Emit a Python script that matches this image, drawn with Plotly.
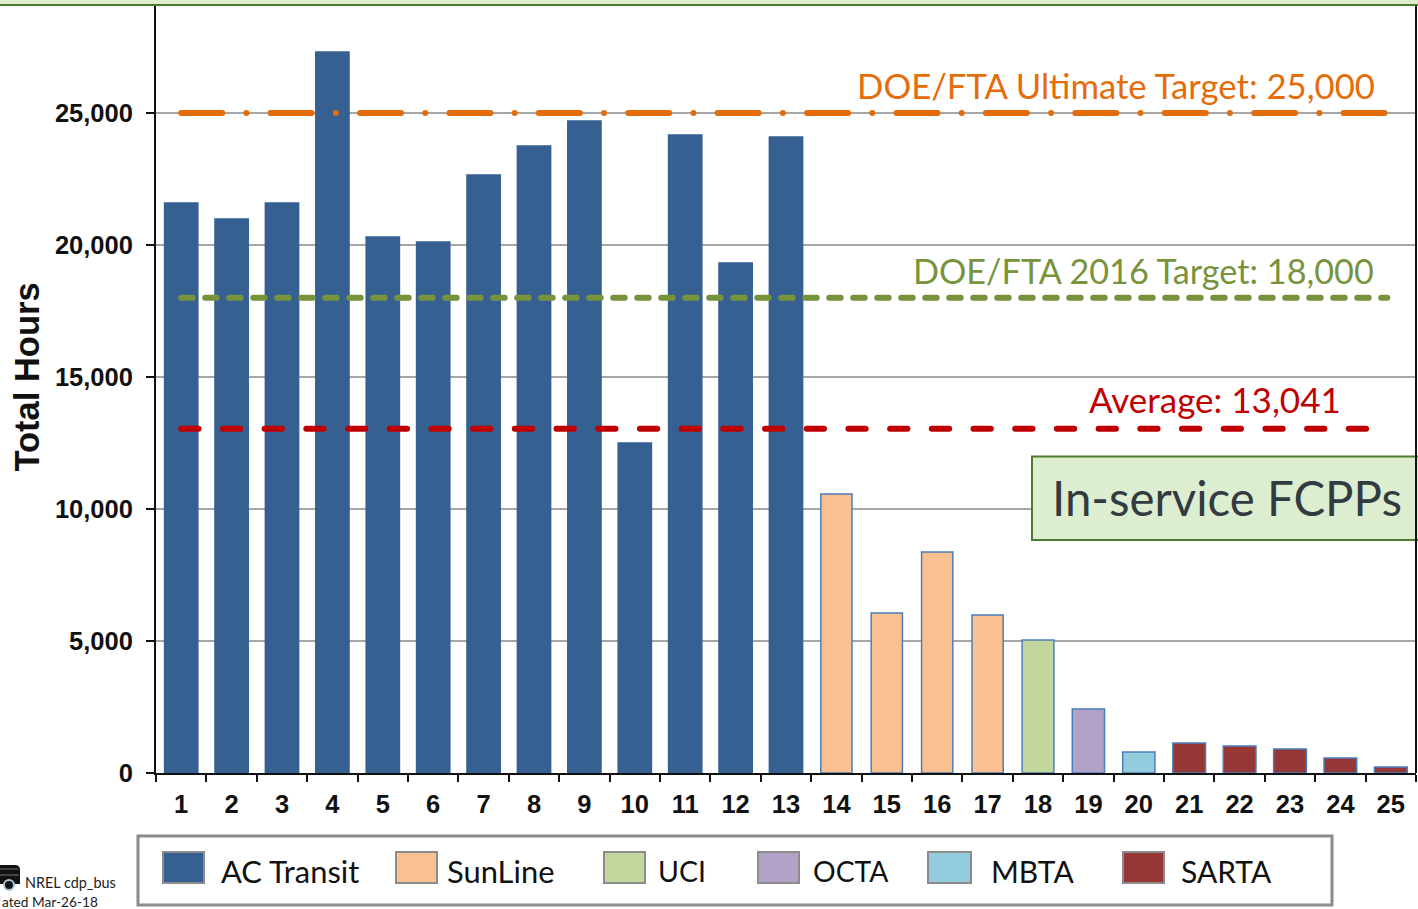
import plotly.graph_objects as go

W, H = 1418, 909
L, R, T, B = 156, 1416, 6, 773

categories = [str(i) for i in range(1, 26)]
ac_transit = [21590, 20985, 21590, 27310, 20300, 20110, 22650, 23750, 24700, 12500, 24170, 19320, 24090]
sunline = [10570, 6060, 8370, 5985]
uci = [5040]
octa = [2425]
mbta = [800]
sarta = [1140, 1020, 910, 570, 230]
operators = ["AC Transit", "SunLine", "UCI", "OCTA", "MBTA", "SARTA"]
operator_values = [ac_transit, sunline, uci, octa, mbta, sarta]
operator_colors = ["#376092", "#FAC090", "#C3D69B", "#B3A2C7", "#93CDDD", "#953735"]
ultimate_target, target_2016, average = 25000, 18000, 13041
y_ticks = [0, 5000, 10000, 15000, 20000, 25000]
INK = "#111111"


def fx(x):
    return (x - L) / (R - L)


def fy(y):
    return (B - y) / (B - T)


fig = go.Figure()
start = 0
bar_widths = [0.66, 0.62, 0.63, 0.64, 0.64, 0.65]
for name, vals, col, bw in zip(operators, operator_values, operator_colors, bar_widths):
    fig.add_bar(x=categories[start:start + len(vals)], y=vals, name=name, marker_color=col, width=bw,
                marker_line_color="#4A7EBB" if name != "AC Transit" else "#376092",
                marker_line_width=1.5, showlegend=False)
    start += len(vals)

for val, col, dash, x_end in [
    (ultimate_target, "#E46C0A", "41px,24.2px,0.01px,24.2px", 25),
    (target_2016, "#77933C", "11.5px,12.5px", 24.93),
    (average, "#C00000", "17.3px,24.4px", 24.6),
]:
    fig.add_scatter(x=[1, x_end], y=[val, val], mode="lines", showlegend=False, xaxis="x2",
                    line=dict(color=col, dash=dash, width=6))

shapes = [
    dict(type="rect", xref="paper", yref="paper", x0=fx(-5), x1=fx(1425), y0=fy(5), y1=fy(-5),
         fillcolor="#DDEED0", line=dict(color="#4E7A2E", width=2), layer="above"),
    dict(type="rect", xref="paper", yref="paper", x0=fx(1032), x1=fx(1425), y0=fy(540), y1=fy(456.5),
         fillcolor="#DDEED0", line=dict(color="#4E7A2E", width=2), layer="above"),
    dict(type="rect", xref="paper", yref="paper", x0=fx(138), x1=fx(1332), y0=fy(905), y1=fy(836),
         fillcolor="white", line=dict(color="#8C8C8C", width=3), layer="above"),
    dict(type="path", xref="paper", yref="paper", layer="above", fillcolor=INK, line=dict(width=0),
         path=f"M {fx(-2)} {fy(865)} L {fx(15)} {fy(865)} Q {fx(20)} {fy(865)} {fx(20)} {fy(870)} "
              f"L {fx(20)} {fy(884)} L {fx(-2)} {fy(884)} Z"),
    dict(type="line", xref="paper", yref="paper", layer="above", x0=fx(0), x1=fx(18), y0=fy(869), y1=fy(869),
         line=dict(color="#777777", width=1)),
    dict(type="line", xref="paper", yref="paper", layer="above", x0=fx(0), x1=fx(19), y0=fy(875), y1=fy(875),
         line=dict(color="#777777", width=1)),
    dict(type="circle", xref="paper", yref="paper", layer="above", fillcolor=INK,
         line=dict(color="#A9C6DC", width=2), x0=fx(4), x1=fx(14), y0=fy(890), y1=fy(880)),
]
swatch_x = [163, 396, 604, 758, 928, 1123]
label_x = [221, 447, 658, 813, 991, 1181]
label_size = [30.9, 30.9, 28.5, 28.3, 30, 30]
swatch_w = [41, 41, 41, 41, 43, 41]
for sx, sw, col in zip(swatch_x, swatch_w, operator_colors):
    shapes.append(dict(type="rect", xref="paper", yref="paper", x0=fx(sx), x1=fx(sx + sw), y0=fy(883), y1=fy(852),
                       fillcolor=col, line=dict(color="#8C8C8C", width=2), layer="above"))

LABEL_FONT = "Lato"


def note(text, x, y, size, color, anchor="left", family=LABEL_FONT, **kw):
    return dict(text=text, xref="paper", yref="paper", x=fx(x), y=fy(y), xanchor=anchor, yanchor="middle",
                showarrow=False, font=dict(family=family, size=size, color=color), **kw)


annotations = [
    note(f"DOE/FTA Ultimate Target: {ultimate_target:,}", 1377, 85, 34.7, "#E46C0A", "right"),
    note(f"DOE/FTA 2016 Target: {target_2016:,}", 1376, 271, 34.2, "#77933C", "right"),
    note(f"Average: {average:,}", 1343, 399, 35, "#C00000", "right"),
    note("In-service FCPPs", 1050, 497, 47.4, "#333B42"),
    note("NREL cdp_bus", 23, 883, 14.4, "#222222"),
    note("ated Mar-26-18", 0, 902, 13.7, "#222222"),
    note("<b>Total Hours</b>", 26, 377.5, 34.5, INK, "center", "Liberation Sans", textangle=-90),
]
for lx, name, ls in zip(label_x, operators, label_size):
    annotations.append(note(name, lx - 2, 871, ls, INK))

fig.update_layout(
    width=W, height=H, autosize=False,
    margin=dict(l=L, r=W - R, t=T, b=H - B),
    plot_bgcolor="white", paper_bgcolor="white",
    barmode="overlay",
    shapes=shapes, annotations=annotations,
    xaxis=dict(type="category", categoryorder="array", categoryarray=categories, tickson="boundaries",
               ticks="outside", ticklen=7, tickwidth=2, tickcolor=INK, ticklabelstandoff=7,
               showline=True, linecolor=INK, linewidth=2, showgrid=False, zeroline=False,
               tickfont=dict(family="Liberation Sans", size=25.5, color=INK, weight=700), range=[-0.5, 24.5]),
    xaxis2=dict(overlaying="x", range=[0.5, 25.5], visible=False),
    yaxis=dict(range=[0, (B - T) / 0.0264], tickvals=y_ticks, tickformat=",d", ticks="outside", ticklen=8,
               tickwidth=2, tickcolor=INK, ticklabelstandoff=8, showline=True, linecolor=INK, linewidth=2,
               showgrid=True, gridcolor="#A6A6A6", gridwidth=1.5, zeroline=False,
               tickfont=dict(family="Liberation Sans", size=25.5, color=INK, weight=700)),
)
fig.add_shape(type="line", xref="paper", yref="paper", x0=1, x1=1, y0=0, y1=1, line=dict(color=INK, width=2))

fig.write_html(
    "out.html",
    config={"displayModeBar": False},
    post_script="document.body.style.margin='0';document.body.style.overflow='hidden';"
                "document.head.insertAdjacentHTML('beforeend','<style>.js-line{stroke-linecap:round}</style>');",
)
